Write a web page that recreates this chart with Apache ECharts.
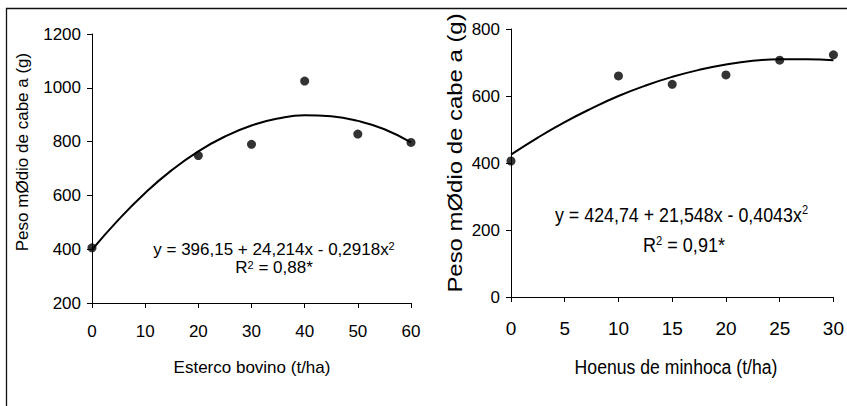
<!DOCTYPE html>
<html>
<head>
<meta charset="utf-8">
<script src="https://cdn.jsdelivr.net/npm/echarts@6/dist/echarts.min.js"></script>
<style>
html,body{margin:0;padding:0;background:#fff;}
#c{width:847px;height:406px;}
</style>
</head>
<body>
<div id="c"></div>
<script>
// ---- data ----
const leftDose   = [0, 20, 30, 40, 50, 60];
const leftWeight = [405, 748, 790, 1025, 828, 797];
const leftFitX   = [0, 5, 10, 15, 20, 25, 30, 35, 40, 45, 50, 55, 60];
const leftFitY   = [398, 510, 609, 694, 764, 819, 860, 886, 898, 894, 877, 846, 797];
const leftXTicks = [0, 10, 20, 30, 40, 50, 60];
const leftYTicks = [200, 400, 600, 800, 1000, 1200];

const rightDose   = [0, 10, 15, 20, 25, 30];
const rightWeight = [406, 660, 635, 663, 707, 723];
const rightFitX   = [0, 2.5, 5, 7.5, 10, 12.5, 15, 17.5, 20, 22.5, 25, 27.5, 30];
const rightFitY   = [425, 476, 522, 563, 600, 631, 657, 678, 694, 705, 710, 710, 707];
const rightXTicks = [0, 5, 10, 15, 20, 25, 30];
const rightYTicks = [0, 200, 400, 600, 800];

const leftXTitle  = 'Esterco bovino (t/ha)';
const rightXTitle = 'Hoenus de minhoca (t/ha)';
const yTitle      = 'Peso mØdio de cabe a (g)';
const leftEq  = ['y = 396,15 + 24,214x - 0,2918x', '2'];
const leftR2  = ['R', '2', ' = 0,88*'];
const rightEq = ['y = 424,74 + 21,548x - 0,4043x', '2'];
const rightR2 = ['R', '2', ' = 0,91*'];

const FONT = 'Liberation Sans, Arial, sans-serif';
const pairs = (xs, ys) => xs.map((x, i) => [x, ys[i]]);

function axis(ticks, idx, fs, margin) {
  return {
    type: 'value', gridIndex: idx,
    min: ticks[0], max: ticks[ticks.length - 1], interval: ticks[1] - ticks[0],
    axisLine: {show: true, onZero: false, lineStyle: {color: '#000', width: 1}},
    axisTick: {show: true, inside: false, length: 5, lineStyle: {color: '#000'}},
    axisLabel: {color: '#000', fontSize: fs, fontFamily: FONT, margin: margin,
                formatter: v => String(v)},
    splitLine: {show: false}
  };
}
function txt(text, x, y, fs, opts) {
  opts = opts || {};
  return {
    type: 'text', x: x, y: y, rotation: opts.rotation || 0,
    scaleX: opts.scaleX || 1, scaleY: 1, silent: true,
    style: {
      text: text, x: 0, y: 0, align: 'center', verticalAlign: 'middle',
      fill: '#000', fontSize: fs, fontFamily: FONT, rich: opts.rich
    }
  };
}
function supRich(fs) {
  return {
    m: {fontSize: fs, fontFamily: FONT, fill: '#000', lineHeight: fs},
    s: {fontSize: Math.round(fs * 0.62), fontFamily: FONT, fill: '#000',
        verticalAlign: 'top', lineHeight: Math.round(fs * 0.62)}
  };
}

const chart = echarts.init(document.getElementById('c'), null, {renderer: 'svg'});
chart.setOption({
  backgroundColor: '#fff',
  animation: false,
  grid: [
    {left: 92, top: 34, width: 319, height: 269},
    {left: 511, top: 29, width: 329, height: 268}
  ],
  xAxis: [axis(leftXTicks, 0, 17, 20), axis(rightXTicks, 1, 19, 22)],
  yAxis: [axis(leftYTicks, 0, 17, 11), axis(rightYTicks, 1, 17, 11)],
  series: [
    {type: 'line', xAxisIndex: 0, yAxisIndex: 0, data: pairs(leftFitX, leftFitY),
     smooth: true, showSymbol: false, lineStyle: {color: '#000', width: 2}, z: 2},
    {type: 'scatter', xAxisIndex: 0, yAxisIndex: 0, data: pairs(leftDose, leftWeight),
     symbolSize: 9, itemStyle: {color: '#000'}, z: 3},
    {type: 'line', xAxisIndex: 1, yAxisIndex: 1, data: pairs(rightFitX, rightFitY),
     smooth: true, showSymbol: false, lineStyle: {color: '#000', width: 2}, z: 2},
    {type: 'scatter', xAxisIndex: 1, yAxisIndex: 1, data: pairs(rightDose, rightWeight),
     symbolSize: 9, itemStyle: {color: '#000'}, z: 3}
  ],
  graphic: [
    {type: 'rect', shape: {x: 6.5, y: 8.5, width: 1000, height: 600}, silent: true,
     style: {fill: 'none', stroke: '#111', lineWidth: 1.3}},
    txt(yTitle, 22.5, 152, 17, {rotation: Math.PI / 2}),
    txt(yTitle, 455, 153, 21, {rotation: Math.PI / 2, scaleX: 1.14}),
    txt(leftXTitle, 252, 367, 17),
    txt(rightXTitle, 676, 366, 21, {scaleX: 0.84}),
    txt('{m|' + leftEq[0] + '}{s|' + leftEq[1] + '}', 274, 249, 17, {rich: supRich(17)}),
    txt('{m|' + leftR2[0] + '}{s|' + leftR2[1] + '}{m|' + leftR2[2] + '}', 274, 267.5, 17, {rich: supRich(17)}),
    txt('{m|' + rightEq[0] + '}{s|' + rightEq[1] + '}', 681.5, 214, 21, {rich: supRich(21), scaleX: 0.85}),
    txt('{m|' + rightR2[0] + '}{s|' + rightR2[1] + '}{m|' + rightR2[2] + '}', 684, 244.5, 21, {rich: supRich(21), scaleX: 0.86})
  ]
});
</script>
</body>
</html>
